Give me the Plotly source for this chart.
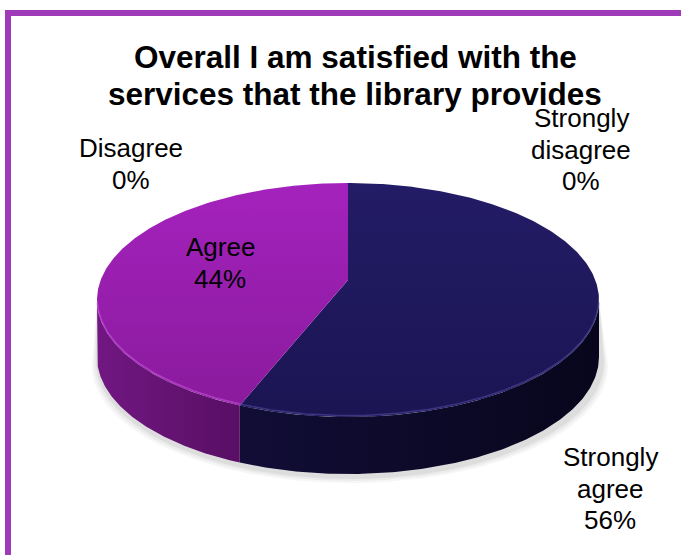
import numpy as np
import plotly.graph_objects as go

# Survey responses (percent of respondents), in drawing order clockwise from 12 o'clock
categories = ["Strongly agree", "Agree", "Disagree", "Strongly disagree"]
percents = [56, 44, 0, 0]

title_lines = ["Overall I am satisfied with the", "services that the library provides"]

# Styling per category: top face gradient (upper, lower) and side gradient (left, right)
top_colors = {
    "Strongly agree": ("#231c66", "#1b1553"),
    "Agree": ("#a422bd", "#891a9b"),
    "Disagree": ("#6f8fc4", "#5c7bb0"),
    "Strongly disagree": ("#c0504d", "#a0403d"),
}
side_colors = {
    "Strongly agree": ("#110d36", "#08061c"),
    "Agree": ("#711782", "#580f64"),
    "Disagree": ("#3f5a88", "#2f4a78"),
    "Strongly disagree": ("#8c3836", "#702c2a"),
}
rim_colors = {
    "Strongly agree": "rgba(90,80,170,0.55)",
    "Agree": "rgba(205,90,225,0.55)",
    "Disagree": "rgba(255,255,255,0.3)",
    "Strongly disagree": "rgba(255,255,255,0.3)",
}
# position of the first line of each data label, and line pitch
label_pos = {
    "Strongly agree": (610, 457),
    "Agree": (220, 247),
    "Disagree": (131, 148),
    "Strongly disagree": (581, 118),
}
LINE_PITCH = 31.5
FONT = "Arial, Liberation Sans, sans-serif"

# Pie geometry in pixel units (axes map 1:1 to the page).
# The disc is seen in perspective: (cx, cy0) is the projected centre,
# A/B the half-axes and k the foreshortening factor.
W, H = 681, 555
cx, cy0, A, B, k, depth = 348, 280, 247.3, 113.6, 0.171, 57


def disc(theta_deg, dy=0.0):
    t = np.radians(theta_deg)
    u, v = np.sin(t), -np.cos(t)
    s = 1.0 / (1.0 - k * v)
    return cx + A * u * s, cy0 + B * v * s + dy


# silhouette angles of the projected disc (extreme left / right points)
grid = np.linspace(0, 360, 3601)
gx, _ = disc(grid)
th_right = grid[:1800][np.argmax(gx[:1800])]
th_left = grid[1800:][np.argmin(gx[1800:])]

fig = go.Figure()

# soft drop shadow below the cylinder
th = np.linspace(th_right, th_left, 160)
for grow, alpha in [(7, 0.035), (5, 0.045), (3, 0.06)]:
    xt, yt = disc(th[::-1])
    xb, yb = disc(th, depth)
    xs = np.concatenate([xt, cx + (xb - cx) * (1 + grow / A) + 2, xt[:1]])
    ys = np.concatenate([yt, yb + grow + 2, yt[:1]])
    fig.add_trace(go.Scatter(x=xs, y=ys, mode="lines", fill="toself",
                             fillcolor=f"rgba(0,0,0,{alpha})", line=dict(width=0),
                             hoverinfo="skip", showlegend=False))

# slice angle ranges from the percentages
total = sum(percents)
bounds = np.concatenate([[0], np.cumsum(percents) / total * 360])

# front side walls
for i, cat in enumerate(categories):
    a0, a1 = bounds[i], bounds[i + 1]
    s0, s1 = max(a0, th_right), min(a1, th_left)
    if s1 <= s0:
        continue
    th = np.linspace(s0, s1, 160)
    xt, yt = disc(th)
    xb, yb = disc(th[::-1], depth)
    xs = np.concatenate([xt, xb])
    ys = np.concatenate([yt, yb])
    c0, c1 = side_colors[cat]
    fig.add_trace(go.Scatter(
        x=xs, y=ys, mode="lines", fill="toself", line=dict(width=0),
        fillgradient=dict(type="horizontal", colorscale=[[0, c0], [1, c1]],
                          start=float(xs.min()), stop=float(xs.max())),
        hoverinfo="skip", showlegend=False))

# top faces
for i, cat in enumerate(categories):
    a0, a1 = bounds[i], bounds[i + 1]
    if a1 - a0 <= 0:
        continue
    th = np.linspace(a0, a1, 300)
    xt, yt = disc(th)
    xs = np.concatenate([[cx], xt, [cx]])
    ys = np.concatenate([[cy0], yt, [cy0]])
    c0, c1 = top_colors[cat]
    fig.add_trace(go.Scatter(
        x=xs, y=ys, mode="lines", fill="toself", line=dict(width=0),
        fillgradient=dict(type="vertical", colorscale=[[0, c0], [1, c1]],
                          start=float(yt.min() if a0 == 0 else disc(0)[1]),
                          stop=float(disc(180)[1])),
        hoverinfo="skip", showlegend=False))

# bevel highlight along the front rim of each slice
for i, cat in enumerate(categories):
    s0, s1 = max(bounds[i], th_right + 2), min(bounds[i + 1], th_left - 2)
    if s1 <= s0:
        continue
    th = np.linspace(s0, s1, 200)
    xr, yr = disc(th, -1.5)
    fig.add_trace(go.Scatter(x=xr, y=yr, mode="lines",
                             line=dict(color=rim_colors[cat], width=1.5),
                             hoverinfo="skip", showlegend=False))

# data labels, one text line per row
for cat, p in zip(categories, percents):
    lx, ly = label_pos[cat]
    rows = cat.split(" ") + [f"{p}%"]
    for r, row in enumerate(rows):
        fig.add_annotation(x=lx, y=ly + r * LINE_PITCH, text=row,
                           showarrow=False, xanchor="center", yanchor="middle",
                           font=dict(family=FONT, size=26, color="#000000"))

# chart title
for r, line in enumerate(title_lines):
    fig.add_annotation(x=355, y=57 + r * 36.5, text=f"<b>{line}</b>", showarrow=False,
                       xanchor="center", yanchor="middle",
                       font=dict(family=FONT, size=31.5, color="#000000"))

# chart area frame
fig.add_shape(type="rect", x0=8, y0=13, x1=W + 20, y1=H + 20,
              line=dict(color="#9f3ab8", width=6), layer="above")

fig.update_layout(
    width=W, height=H,
    margin=dict(l=0, r=0, t=0, b=0),
    paper_bgcolor="white", plot_bgcolor="white",
    xaxis=dict(range=[0, W], visible=False, fixedrange=True),
    yaxis=dict(range=[H, 0], visible=False, fixedrange=True),
    showlegend=False,
)

fig.write_html("out.html")
